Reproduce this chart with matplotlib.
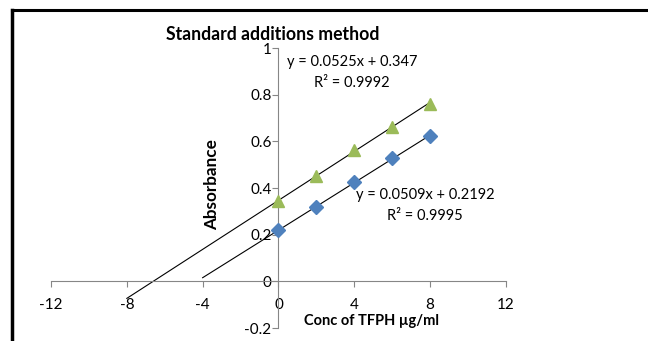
import matplotlib
matplotlib.use("Agg")
import matplotlib.pyplot as plt
from matplotlib.lines import Line2D

# data
conc = [0, 2, 4, 6, 8]
abs_sample = [0.22, 0.32, 0.425, 0.53, 0.625]
abs_spiked = [0.345, 0.45, 0.565, 0.66, 0.76]

# trend lines as printed on the chart
fit_sample = (0.0509, 0.2192)
fit_spiked = (0.0525, 0.347)
fit_sample_range = [-4, 8]
fit_spiked_range = [-8, 8]

xticks = [-12, -8, -4, 0, 4, 8, 12]
yticks = [-0.2, 0, 0.2, 0.4, 0.6, 0.8, 1]
ytick_labels = ["-0.2", "0", "0.2", "0.4", "0.6", "0.8", "1"]

plt.rcParams['font.family'] = ['Lato', 'DejaVu Sans']

fig = plt.figure(figsize=(6.48, 3.41), dpi=100)
ax = fig.add_axes([0.0787, 0.0381, 0.702, 0.821])

blue = '#4F81BD'
green = '#9BBB59'
grey = '#868686'

# trend lines
for fit, rng in [(fit_sample, fit_sample_range), (fit_spiked, fit_spiked_range)]:
    ys = [fit[0] * x + fit[1] for x in rng]
    ax.plot(rng, ys, color='black', lw=0.8, zorder=2)

ax.plot(conc, abs_sample, 'D', color=blue, markersize=7, zorder=3)
ax.plot(conc, abs_spiked, '^', color=green, markersize=9, zorder=3)

ax.set_xlim(-12, 12)
ax.set_ylim(-0.2, 1)

# axes cross at the origin like excel
ax.spines['left'].set_position(('data', 0))
ax.spines['bottom'].set_position(('data', 0))
ax.spines['top'].set_visible(False)
ax.spines['right'].set_visible(False)
ax.spines['left'].set_color(grey)
ax.spines['bottom'].set_color(grey)

ax.set_xticks(xticks)
ax.set_xticklabels([str(t) for t in xticks])
ax.set_yticks(yticks)
ax.set_yticklabels(ytick_labels)
ax.tick_params(axis='both', colors=grey, labelcolor='black', labelsize=11,
               length=4, direction='out')
ax.tick_params(axis='x', pad=8)
ax.tick_params(axis='y', pad=1)

ax.text(3.88, 0.895, "y = 0.0525x + 0.347\nR² = 0.9992", ha='center', va='center',
        fontsize=10.5, linespacing=1.6)
ax.text(7.73, 0.325, "y = 0.0509x + 0.2192\nR² = 0.9995", ha='center', va='center',
        fontsize=10.5, linespacing=1.6)

fig.text(273 / 648, 1 - 35 / 341, "Standard additions method", ha='center', va='center',
         fontsize=12.7, fontweight='bold')
fig.text(212 / 648, 1 - 185 / 341, "Absorbance", ha='center', va='center',
         rotation=90, fontsize=12.3, fontweight='bold')
fig.text(372 / 648, 1 - 321 / 341, "Conc of TFPH µg/ml", ha='center', va='center',
         fontsize=10.5, fontweight='bold')

# frame of the pasted chart (top and left edges only)
fig.add_artist(Line2D([12 / 648, 1], [1 - 10 / 341, 1 - 10 / 341], color='black', lw=2.2,
                      transform=fig.transFigure))
fig.add_artist(Line2D([12 / 648, 12 / 648], [0, 1 - 10 / 341], color='black', lw=2.5,
                      transform=fig.transFigure))

fig.savefig("out.png", dpi=100)
